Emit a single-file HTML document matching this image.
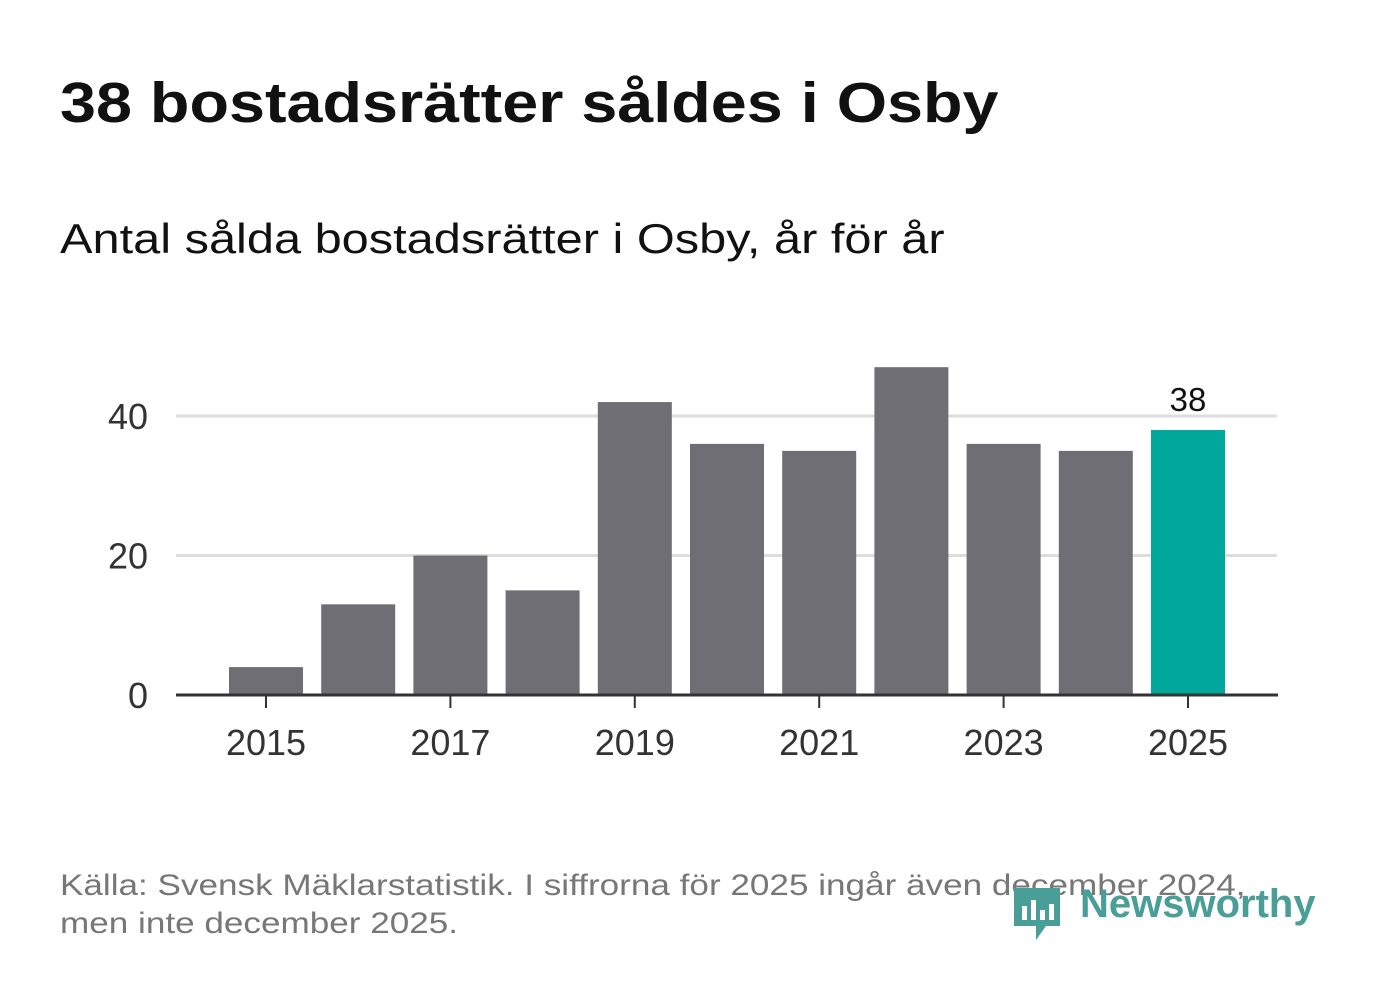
<!DOCTYPE html>
<html><head><meta charset="utf-8"><style>
body{margin:0;width:1382px;height:999px;background:#fff;font-family:"Liberation Sans",sans-serif;position:relative;overflow:hidden}
.t{position:absolute;white-space:nowrap;transform-origin:0 0}
</style></head><body>
<div class="t" style="left:60px;top:70px;font-size:57px;font-weight:bold;color:#111;transform:scaleX(1.135)">38 bostadsrätter såldes i Osby</div>
<div class="t" style="left:60px;top:215px;font-size:42px;color:#111;transform:scaleX(1.16)">Antal sålda bostadsrätter i Osby, år för år</div>
<svg id="chart" width="1382" height="999" style="position:absolute;left:0;top:0"></svg>
<div class="t" style="left:60px;top:867px;font-size:30px;color:#777;line-height:38px;transform:scaleX(1.17)">Källa: Svensk Mäklarstatistik. I siffrorna för 2025 ingår även december 2024,<br>men inte december 2025.</div>
<div style="position:absolute;left:1012px;top:884px;width:310px;height:60px">
<svg width="50" height="60" style="position:absolute;left:0;top:0"><path d="M2 4 H48 V42 H34 L24 56 V42 H2 Z" fill="#4a9e98"/><rect x="10" y="22" width="5" height="14" fill="#fff"/><rect x="19" y="16" width="5" height="20" fill="#fff"/><rect x="28" y="26" width="5" height="10" fill="#fff"/><rect x="37" y="20" width="5" height="16" fill="#fff"/></svg>
<div class="t" style="left:68px;top:-2px;font-size:40px;font-weight:bold;color:#4a9e98">Newsworthy</div>
</div>
<script>
const years=[2015,2016,2017,2018,2019,2020,2021,2022,2023,2024,2025];
const values=[4,13,20,15,42,36,35,47,36,35,38];
const yTicks=[0,20,40];
const xTicks=[2015,2017,2019,2021,2023,2025];
const NS="http://www.w3.org/2000/svg";
const svg=document.getElementById('chart');
const y=v=>695-v*6.975;
const x=yr=>266+(yr-2015)*92.2;
function mk(t,a){const e=document.createElementNS(NS,t);for(const k in a)e.setAttribute(k,a[k]);svg.appendChild(e);return e;}
yTicks.forEach(v=>{
 if(v>0){const g=mk('line',{x1:176,x2:1277,y1:y(v),y2:y(v),stroke:'#ddd','stroke-width':3});
 
 }
 const t=mk('text',{x:148,y:y(v)+13,'text-anchor':'end','font-size':36,fill:'#333','font-family':'Liberation Sans,sans-serif'});t.textContent=v;
 
 
});
years.forEach((yr,i)=>{
 const last=i===years.length-1;
 const r=mk('rect',{x:x(yr)-37,y:y(values[i]),width:74,height:695-y(values[i]),fill:last?'#00a79a':'#6f6e74'});
 
 
 if(last){const l=mk('text',{x:x(yr),y:y(values[i])-19,'text-anchor':'middle','font-size':33,fill:'#111','font-family':'Liberation Sans,sans-serif'});l.textContent=values[i];
 
 }
});
const ax=mk('line',{x1:176,x2:1278,y1:695,y2:695,stroke:'#333','stroke-width':3});


xTicks.forEach(yr=>{
 const tk=mk('line',{x1:x(yr),x2:x(yr),y1:695,y2:708,stroke:'#333','stroke-width':2});
 
 
 const t=mk('text',{x:x(yr),y:755,'text-anchor':'middle','font-size':36,fill:'#333','font-family':'Liberation Sans,sans-serif'});t.textContent=yr;
 
 
});
</script>
</body></html>
